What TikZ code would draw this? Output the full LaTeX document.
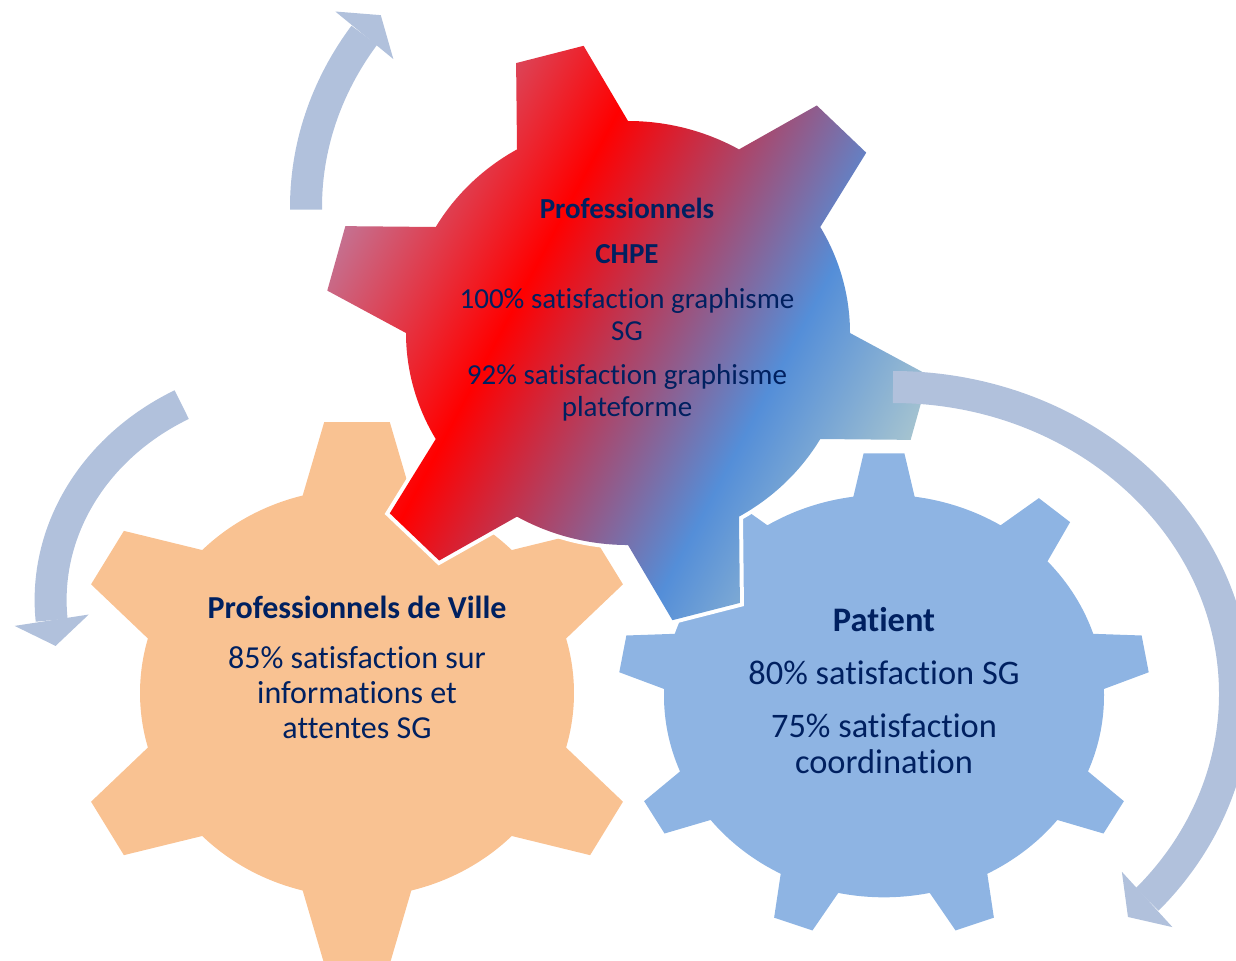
\documentclass[tikz,border=0pt]{standalone}
\usepackage{fontspec}
\setmainfont{Carlito}[Ligatures=NoCommon]
\usetikzlibrary{calc}

\definecolor{navytext}{RGB}{0,32,96}
\definecolor{villecol}{RGB}{249,194,146}
\definecolor{patientcol}{RGB}{142,180,227}
\definecolor{arrowcol}{RGB}{177,193,220}
\definecolor{chpemauve}{RGB}{196,114,146}
\definecolor{chpered}{RGB}{255,0,0}
\definecolor{chpeblue}{RGB}{84,142,216}
\definecolor{chpelight}{RGB}{166,196,208}

\pgfdeclarehorizontalshading{chpeshade}{100bp}{color(0bp)=(chpemauve); color(26bp)=(chpemauve); color(41bp)=(chpered); color(62bp)=(chpeblue); color(74bp)=(chpelight); color(100bp)=(chpelight)}

\begin{document}
\begin{tikzpicture}[
        x=0.5pt, y=0.5pt,
        gtext/.style={text=navytext, align=center, inner sep=0pt},
        band/.style={draw=arrowcol, line width=16pt},
        head/.style={fill=arrowcol},
    ]
    \useasboundingbox (0,0) rectangle (1236,-960);

    % Gear centres
    \coordinate (ville) at (357,-693);
    \coordinate (patient) at (884,-696);
    \coordinate (chpe) at (628,-333);

    % Professionnels de Ville gear, 6 teeth
    \begin{scope}[shift={(ville)}, yscale=0.94]
        \fill[villecol] (15.5:217) \foreach \a in {30,90,...,330}
            { -- (\a-14.5:217) -- (\a-6.5:290) -- (\a+6.5:290) -- (\a+14.5:217)
              arc[start angle=\a+14.5, end angle=\a+45.5, radius=217] } -- cycle;
    \end{scope}

    % Patient gear, 9 teeth
    \begin{scope}[shift={(patient)}, yscale=0.915]
        \fill[patientcol] (82:220) \foreach \a in {90,130,...,410}
            { -- (\a-8:220) -- (\a-4.4:266) -- (\a+4.4:266) -- (\a+8:220)
              arc[start angle=\a+8, end angle=\a+32, radius=220] } -- cycle;
    \end{scope}

    % CHPE gear, 6 teeth, shaded, white rim
    \def\chpeteeth{(90:222) \foreach \a in {105,165,...,405}
        { -- (\a-15:222) -- (\a-6.6:304) -- (\a+6.6:304) -- (\a+15:222)
          arc[start angle=\a+15, end angle=\a+45, radius=222] } -- cycle}
    \begin{scope}[shift={(chpe)}, yscale=0.955]
        \draw[white, line width=4pt] \chpeteeth;
        \begin{scope}
            \clip \chpeteeth;
            \shade[shading=chpeshade, shading angle=-28] (-320,-320) rectangle (320,320);
        \end{scope}
    \end{scope}

    % Circular arrows
    \foreach \nm/\cx/\cy/\ra/\rb/\ts/\te/\dt in {
            top/659/207/353/312/180.5/146.6/-5,
            left/303.6/600/253/223/118.8/185.2/5,
            right/893/694/342/307/90/-42/-5}{
        \coordinate (\nm-c) at (\cx,-\cy);
        \coordinate (\nm-s) at ($(\nm-c)+(xyz polar cs:angle=\ts,x radius=\ra,y radius=\rb)$);
        \coordinate (\nm-m) at ($(\nm-c)+(xyz polar cs:angle=\te,x radius=\ra,y radius=\rb)$);
        \coordinate (\nm-n) at ($(\nm-c)+(xyz polar cs:angle=\te+\dt,x radius=\ra,y radius=\rb)$);
        \draw[band] (\nm-s) arc[start angle=\ts, end angle=\te, x radius=\ra, y radius=\rb];
        \fill[head] ($(\nm-m)!18.75pt!90:(\nm-n)$) -- ($(\nm-m)!13pt!(\nm-n)$)
            -- ($(\nm-m)!18.75pt!-90:(\nm-n)$) -- cycle;
    }

    % Labels
    \node[gtext, font=\fontsize{14.5}{16}\selectfont] (chpe-txt) at (627,-310)
        {\textbf{Professionnels}\\[6.5pt]\textbf{CHPE}\\[6.5pt]100\% satisfaction graphisme\\SG\\[6pt]92\% satisfaction graphisme\\plateforme};
    \node[gtext, font=\fontsize{16}{17.5}\selectfont] (ville-txt) at (357,-667)
        {\textbf{Professionnels de Ville}\\[7.5pt]85\% satisfaction sur\\informations et\\attentes SG};
    \node[gtext, font=\fontsize{17.2}{18}\selectfont] (patient-txt) at (884,-691)
        {\textbf{Patient}\\[8.5pt]80\% satisfaction SG\\[8.5pt]75\% satisfaction\\coordination};
\end{tikzpicture}
\end{document}
